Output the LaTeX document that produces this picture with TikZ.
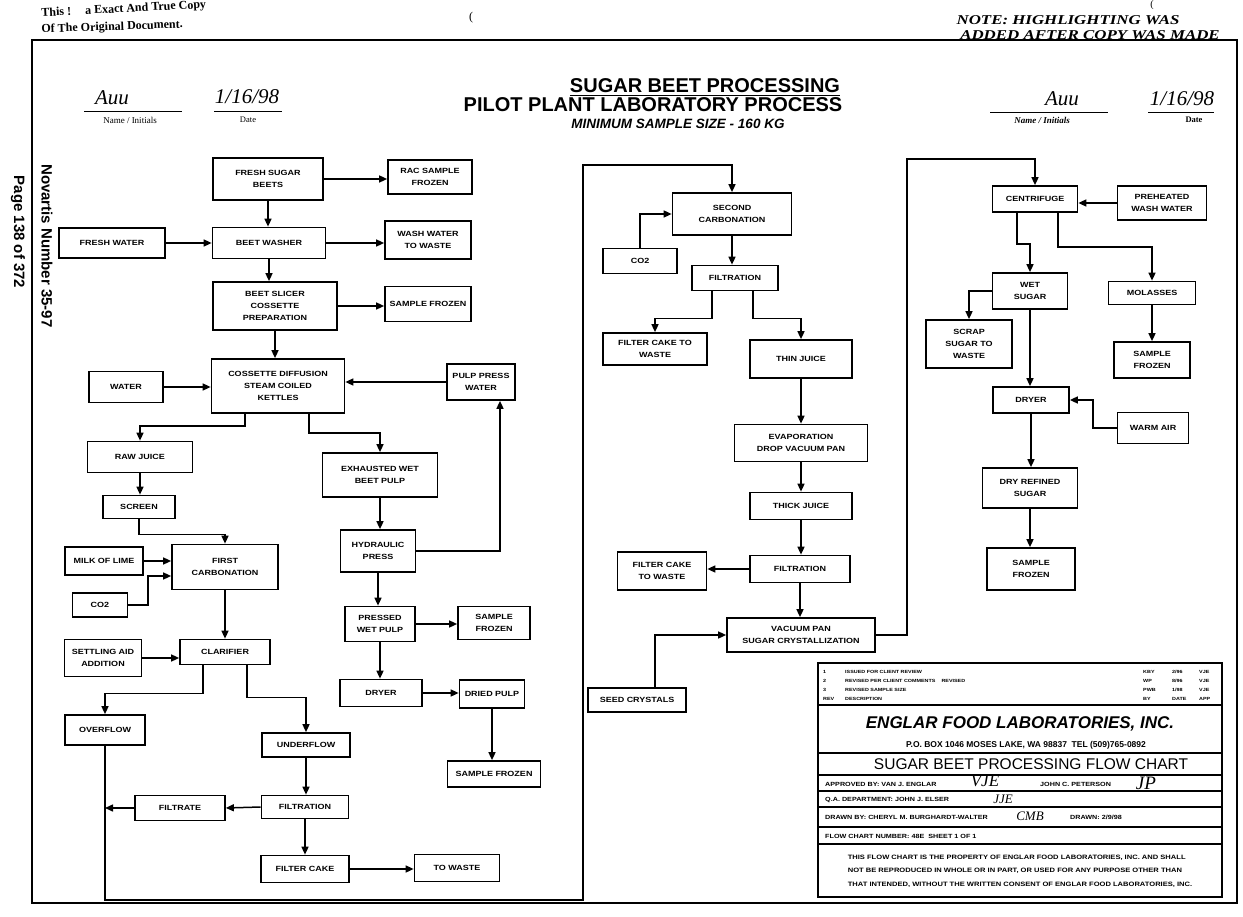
\documentclass[tikz,border=0pt]{standalone}
\usepackage{fontspec}
\setmainfont{Liberation Serif}
\newfontfamily\bxf{Liberation Sans}[UprightFont={* Bold}, FakeStretch=1.2]
\newfontfamily\sansf{Liberation Sans}
\newfontfamily\notef{Liberation Serif}[UprightFont={* Bold Italic}, FakeStretch=1.25]
\usetikzlibrary{arrows.meta}
\tikzset{
  box/.style={draw, line width=1.7pt, align=center, inner sep=1pt,
              font=\bxf\fontsize{7.5}{12}\selectfont},
  arr/.style={line width=1.5pt, -{Triangle[length=8pt,width=7pt]}},
  ln/.style={line width=1.5pt},
  tbl/.style={line width=1.3pt},
  hand/.style={font=\itshape\fontsize{21}{21}\selectfont},
  serifb/.style={font=\bfseries\fontsize{12}{12}\selectfont},
  notes/.style={font=\notef\fontsize{13.5}{14}\selectfont},
  small/.style={font=\bxf\fontsize{6}{7}\selectfont, anchor=west, inner sep=0pt},
  tiny/.style={font=\bxf\fontsize{4.5}{5}\selectfont, anchor=west, inner sep=0pt},
}
\newcommand\bxn[6]{\node[box, minimum width=#4pt, minimum height=#5pt] (#1) at (#2,#3) {#6};}
\begin{document}
\begin{tikzpicture}[x=1pt,y=-1pt]
\useasboundingbox (0,0) rectangle (1243,917);
\fill[white] (0,0) rectangle (1243,917);

% ---------- frame ----------
\draw[line width=1.4pt] (32,40) rectangle (1237,903);

% ---------- header ----------
\node[serifb, rotate=3, anchor=west] (hdr1) at (38,14) {This !\hspace{10pt} a Exact And True Copy};
\node[serifb, rotate=2, anchor=west] (hdr2) at (38,30) {Of The Original Document.};
\node[font=\fontsize{12}{12}\selectfont] (par1) at (471,18) {(};
\node[font=\fontsize{10}{10}\selectfont, inner sep=0pt] (par2) at (1152,5) {(};
\node[notes] (note1) at (1068,20) {NOTE: HIGHLIGHTING WAS};
\node[notes] (note2) at (1090,35) {ADDED AFTER COPY WAS MADE};

\node[hand] (sig1) at (112,98) {Auu};
\draw[line width=0.9pt] (84,111) -- (182,111);
\node[font=\fontsize{9}{9}\selectfont] (ni1) at (130,120) {Name / Initials};
\node[hand] (dt1) at (247,97) {1/16/98};
\draw[line width=0.9pt] (214,111) -- (282,111);
\node[font=\fontsize{8.5}{9}\selectfont] (dl1) at (248,120) {Date};

\node[hand] (sig2) at (1062,99) {Auu};
\draw[line width=0.9pt] (990,112) -- (1108,112);
\node[font=\bfseries\itshape\fontsize{9}{9}\selectfont] (ni2) at (1042,120) {Name / Initials};
\node[hand] (dt2) at (1182,99) {1/16/98};
\draw[line width=0.9pt] (1148,112) -- (1214,112);
\node[font=\bfseries\fontsize{8.5}{9}\selectfont] (dl2) at (1194,120) {Date};

% ---------- title ----------
\node[font=\sansf\bfseries\fontsize{20}{20}\selectfont, inner sep=0pt] (t1) at (705,86) {SUGAR BEET PROCESSING};
\draw[line width=1.6pt] ([yshift=-2.5pt]t1.base west) -- ([yshift=-2.5pt]t1.base east);
\node[font=\sansf\bfseries\fontsize{20}{20}\selectfont, inner sep=0pt] (t2) at (653,105) {PILOT PLANT LABORATORY PROCESS};
\node[font=\sansf\bfseries\itshape\fontsize{13.5}{14}\selectfont, inner sep=0pt] (t3) at (678,124) {MINIMUM SAMPLE SIZE - 160 KG};

% ---------- side texts ----------
\node[font=\sansf\bfseries\fontsize{15}{15}\selectfont, rotate=-90, inner sep=0pt] (nov) at (47,246) {Novartis Number 35-97};
\node[font=\sansf\bfseries\fontsize{15}{15}\selectfont, rotate=-90, inner sep=0pt] (pg) at (18,232) {Page 138 of 372};

% ---------- left column ----------
\bxn{fsb}{268}{179}{110}{42}{FRESH SUGAR\\BEETS}
\bxn{rac}{430}{177}{84}{34}{RAC SAMPLE\\FROZEN}
\bxn{fw}{112}{243}{106}{30}{FRESH WATER}
\bxn{bw}{269}{243}{113}{31}{BEET WASHER}
\bxn{wwtw}{428}{240}{86}{38}{WASH WATER\\TO WASTE}
\bxn{bscp}{275}{306}{124}{48}{BEET SLICER\\COSSETTE\\PREPARATION}
\bxn{sf1}{428}{304}{86}{35}{SAMPLE FROZEN}
\bxn{cdsk}{278}{386}{133}{54}{COSSETTE DIFFUSION\\STEAM COILED\\KETTLES}
\bxn{water}{126}{387}{74}{31}{WATER}
\bxn{ppw}{481}{382}{68}{36}{PULP PRESS\\WATER}
\bxn{rj}{140}{457}{105}{31}{RAW JUICE}
\bxn{scr}{139}{507}{72}{23}{SCREEN}
\bxn{fc}{225}{567}{106}{45}{FIRST\\CARBONATION}
\bxn{mol}{104}{561}{78}{28}{MILK OF LIME}
\bxn{co2a}{100}{605}{55}{24}{CO2}
\bxn{clar}{225}{652}{90}{25}{CLARIFIER}
\bxn{saa}{103}{658}{77}{37}{SETTLING AID\\ADDITION}
\bxn{ewbp}{380}{475}{115}{44}{EXHAUSTED WET\\BEET PULP}
\bxn{hp}{378}{551}{75}{42}{HYDRAULIC\\PRESS}
\bxn{pwp}{380}{624}{70}{35}{PRESSED\\WET PULP}
\bxn{sf2}{494}{623}{72}{33}{SAMPLE\\FROZEN}
\bxn{dry1}{381}{693}{82}{27}{DRYER}
\bxn{dp}{492}{694}{65}{28}{DRIED PULP}
\bxn{sf3}{494}{774}{93}{26}{SAMPLE FROZEN}
\bxn{ovf}{105}{730}{80}{30}{OVERFLOW}
\bxn{uf}{306}{745}{88}{24}{UNDERFLOW}
\bxn{filt1}{305}{807}{87}{23}{FILTRATION}
\bxn{filtrate}{180}{808}{90}{25}{FILTRATE}
\bxn{fcake}{305}{869}{88}{27}{FILTER CAKE}
\bxn{tw}{457}{868}{85}{27}{TO WASTE}

% ---------- middle column ----------
\bxn{sc}{732}{214}{119}{42}{SECOND\\CARBONATION}
\bxn{co2b}{640}{261}{74}{25}{CO2}
\bxn{filt2}{735}{278}{86}{25}{FILTRATION}
\bxn{fctw1}{655}{349}{104}{32}{FILTER CAKE TO\\WASTE}
\bxn{tj}{801}{359}{102}{38}{THIN JUICE}
\bxn{evap}{801}{443}{133}{37}{EVAPORATION\\DROP VACUUM PAN}
\bxn{thick}{801}{506}{102}{27}{THICK JUICE}
\bxn{filt3}{800}{569}{100}{27}{FILTRATION}
\bxn{fctw2}{662}{571}{89}{38}{FILTER CAKE\\TO WASTE}
\bxn{vpsc}{801}{635}{148}{34}{VACUUM PAN\\SUGAR CRYSTALLIZATION}
\bxn{seed}{637}{700}{98}{24}{SEED CRYSTALS}

% ---------- right column ----------
\bxn{cent}{1035}{199}{85}{26}{CENTRIFUGE}
\bxn{pww}{1162}{203}{89}{34}{PREHEATED\\WASH WATER}
\bxn{ws}{1030}{291}{75}{36}{WET\\SUGAR}
\bxn{molas}{1152}{293}{87}{23}{MOLASSES}
\bxn{sf4}{1152}{360}{76}{36}{SAMPLE\\FROZEN}
\bxn{sstw}{969}{344}{86}{48}{SCRAP\\SUGAR TO\\WASTE}
\bxn{dry2}{1031}{400}{76}{26}{DRYER}
\bxn{wa}{1153}{428}{71}{31}{WARM AIR}
\bxn{drs}{1030}{488}{95}{40}{DRY REFINED\\SUGAR}
\bxn{sf5}{1031}{569}{88}{42}{SAMPLE\\FROZEN}

% ---------- connectors: left ----------
\draw[arr] (fsb.east) -- (fsb.east -| rac.west);
\draw[arr] (fsb.south) -- (fsb.south |- bw.north);
\draw[arr] (fw.east) -- (bw.west);
\draw[arr] (bw.east) -- (bw.east -| wwtw.west);
\draw[arr] (bw.south) -- (bw.south |- bscp.north);
\draw[arr] (bscp.east) -- (bscp.east -| sf1.west);
\draw[arr] (bscp.south) -- (bscp.south |- cdsk.north);
\draw[arr] (water.east) -- (water.east -| cdsk.west);
\draw[arr] (ppw.west) -- (ppw.west -| cdsk.east);
\draw[arr] ([xshift=-33pt]cdsk.south) -- ++(0,12) -| (rj.north);
\draw[arr] ([xshift=31pt]cdsk.south) -- ++(0,19) -| (ewbp.north);
\draw[arr] (rj.south) -- (rj.south |- scr.north);
\draw[arr] (scr.south) -- ++(0,15) -| (fc.north);
\draw[arr] (mol.east) -- (mol.east -| fc.west);
\draw[arr] (co2a.east) -- (148,605) |- (fc.west |- 0,576);
\draw[arr] (fc.south) -- (clar.north);
\draw[arr] (saa.east) -- (saa.east -| clar.west);
\draw[arr] ([xshift=-22pt]clar.south) -- ++(0,28) -| (ovf.north);
\draw[arr] ([xshift=22pt]clar.south) -- ++(0,32) -| (uf.north);
\draw[arr] (uf.south) -- (uf.south |- filt1.north);
\draw[arr] (filt1.west) -- (filtrate.east);
\draw[arr] (filtrate.west) -- (ovf.south |- filtrate.west);
\draw[arr] (filt1.south) -- (filt1.south |- fcake.north);
\draw[arr] (fcake.east) -- (fcake.east -| tw.west);
\draw[arr] (ewbp.south) -- (ewbp.south |- hp.north);
\draw[arr] (hp.east) -| ([xshift=19pt]ppw.south);
\draw[arr] (hp.south) -- (hp.south |- pwp.north);
\draw[arr] (pwp.east) -- (pwp.east -| sf2.west);
\draw[arr] (pwp.south) -- (pwp.south |- dry1.north);
\draw[arr] (dry1.east) -- (dry1.east -| dp.west);
\draw[arr] (dp.south) -- (dp.south |- sf3.north);
\draw[arr] (ovf.south) -- (ovf.south |- 0,900) -| (583,165) -| (sc.north);

% ---------- connectors: middle ----------
\draw[arr] (co2b.north) |- (sc.west);
\draw[arr] (sc.south) -- (sc.south |- filt2.north);
\draw[arr] ([xshift=-23pt]filt2.south) -- ++(0,27) -| (fctw1.north);
\draw[arr] ([xshift=18pt]filt2.south) -- ++(0,27) -| (tj.north);
\draw[arr] (tj.south) -- (evap.north);
\draw[arr] (evap.south) -- (thick.north);
\draw[arr] (thick.south) -- (thick.south |- filt3.north);
\draw[arr] (filt3.west) -- (filt3.west -| fctw2.east);
\draw[arr] (filt3.south) -- (filt3.south |- vpsc.north);
\draw[arr] ([xshift=18pt]seed.north) |- (vpsc.west);
\draw[arr] (vpsc.east) -| (907,159) -| (cent.north);

% ---------- connectors: right ----------
\draw[arr] (pww.west) -- (pww.west -| cent.east);
\draw[arr] ([xshift=-18pt]cent.south) -- ++(0,31) -| (ws.north);
\draw[arr] ([xshift=23pt]cent.south) -- ++(0,34) -| (molas.north);
\draw[arr] (molas.south) -- (sf4.north);
\draw[arr] (ws.west) -| (sstw.north);
\draw[arr] (ws.south) -- (ws.south |- dry2.north);
\draw[arr] (wa.west) -- (1093,428) |- (dry2.east);
\draw[arr] (dry2.south) -- (dry2.south |- drs.north);
\draw[arr] (drs.south) -- (drs.south |- sf5.north);

% ---------- title block ----------
\draw[line width=1.6pt] (818,663) rectangle (1222,897);
\draw[line width=1.6pt] (818,705) -- (1222,705);
\foreach \yy in {753,775,791,807,827,844} { \draw[tbl] (818,\yy) -- (1222,\yy); }

\node[tiny] (r1a) at (823,672) {1};
\node[tiny] (r1b) at (845,672) {ISSUED FOR CLIENT REVIEW};
\node[tiny] (r2a) at (823,681) {2};
\node[tiny] (r2b) at (845,681) {REVISED PER CLIENT COMMENTS \quad REVISED};
\node[tiny] (r3a) at (823,690) {3};
\node[tiny] (r3b) at (845,690) {REVISED SAMPLE SIZE};
\node[tiny] (r4a) at (823,699) {REV};
\node[tiny] (r4b) at (845,699) {DESCRIPTION};
\node[tiny] (c1a) at (1143,672) {KBY};
\node[tiny] (c1b) at (1172,672) {2/96};
\node[tiny] (c1c) at (1199,672) {VJE};
\node[tiny] (c2a) at (1143,681) {WP};
\node[tiny] (c2b) at (1172,681) {8/96};
\node[tiny] (c2c) at (1199,681) {VJE};
\node[tiny] (c3a) at (1143,690) {PWB};
\node[tiny] (c3b) at (1172,690) {1/98};
\node[tiny] (c3c) at (1199,690) {VJE};
\node[tiny] (c4a) at (1143,699) {BY};
\node[tiny] (c4b) at (1172,699) {DATE};
\node[tiny] (c4c) at (1199,699) {APP};

\node[font=\sansf\bfseries\itshape\fontsize{17}{17}\selectfont] (eng) at (1020,724) {ENGLAR FOOD LABORATORIES, INC.};
\node[font=\sansf\bfseries\fontsize{8.5}{9}\selectfont] (addr) at (1026,745) {P.O. BOX 1046 MOSES LAKE, WA 98837 \ TEL (509)765-0892};
\node[font=\sansf\fontsize{15.5}{16}\selectfont] (tbt) at (1031,764) {SUGAR BEET PROCESSING FLOW CHART};

\node[small] (ap1) at (825,784) {APPROVED BY: VAN J. ENGLAR};
\node[font=\itshape\fontsize{17}{17}\selectfont] (sg1) at (985,781) {VJE};
\node[small] (ap2) at (1040,784) {JOHN C. PETERSON};
\node[font=\itshape\fontsize{19}{19}\selectfont] (sg2) at (1146,783) {JP};
\node[small] (qa) at (825,800) {Q.A. DEPARTMENT: JOHN J. ELSER};
\node[font=\itshape\fontsize{13}{13}\selectfont] (sg3) at (1003,799) {JJE};
\node[small] (drb) at (825,817) {DRAWN BY: CHERYL M. BURGHARDT-WALTER};
\node[font=\itshape\fontsize{13}{13}\selectfont] (sg4) at (1030,816) {CMB};
\node[small] (drd) at (1070,817) {DRAWN: 2/9/98};
\node[small] (fcn) at (825,836) {FLOW CHART NUMBER: 48E \ SHEET 1 OF 1};
\node[font=\bxf\fontsize{6.3}{13.5}\selectfont, align=left, inner sep=0pt] (disc) at (1020,871)
  {THIS FLOW CHART IS THE PROPERTY OF ENGLAR FOOD LABORATORIES, INC. AND SHALL\\
   NOT BE REPRODUCED IN WHOLE OR IN PART, OR USED FOR ANY PURPOSE OTHER THAN\\
   THAT INTENDED, WITHOUT THE WRITTEN CONSENT OF ENGLAR FOOD LABORATORIES, INC.};
\end{tikzpicture}
\end{document}
